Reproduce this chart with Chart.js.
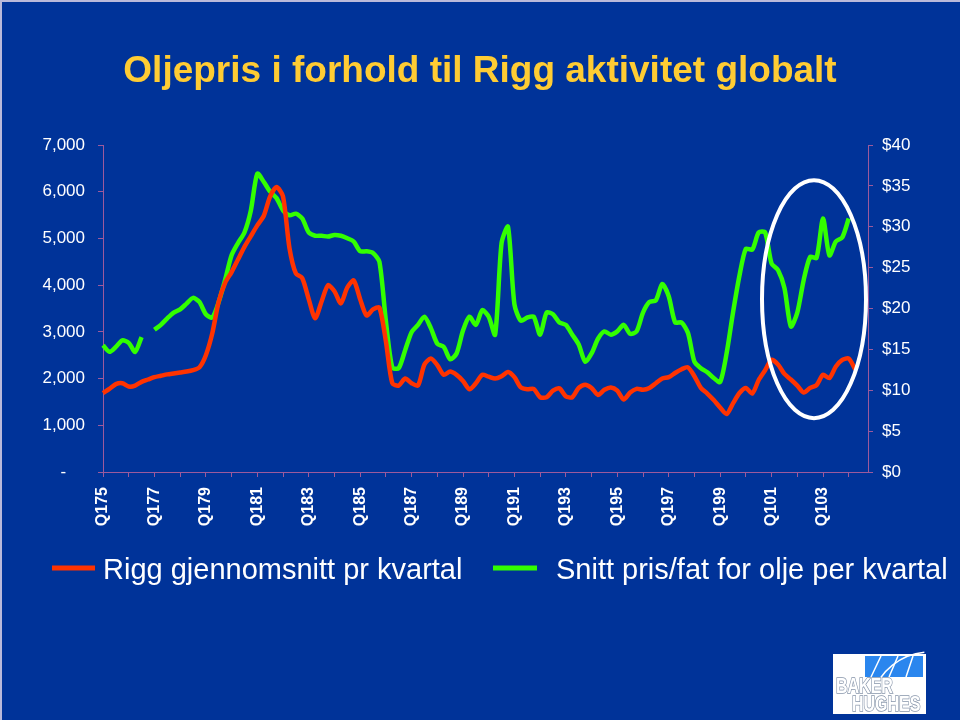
<!DOCTYPE html>
<html lang="no">
<head>
    <meta charset="UTF-8">
    <title>Oljepris i forhold til Rigg aktivitet globalt</title>
    <script src="https://cdn.jsdelivr.net/npm/chart.js"></script>
    <style>
        html, body {
            margin: 0;
            padding: 0;
            background: #003399;
        }
        canvas {
            display: block;
        }
    </style>
</head>
<body>
    <canvas id="chart" width="960" height="720"></canvas>

    <script>
        // Quarter labels Q175 ... Q404 (quarter number + two-digit year)
        const firstYear = 1975;
        const lastYear = 2004;
        const quarters = [];
        for (let year = firstYear; year <= lastYear; year++) {
            for (let q = 1; q <= 4; q++) {
                quarters.push("Q" + q + String(year % 100).padStart(2, "0"));
            }
        }

        // Average rig count per quarter (left axis)
        const rigCount = [
            1690, 1780, 1880, 1900, 1830, 1850, 1930, 1980, 2030, 2060,
            2090, 2110, 2130, 2150, 2180, 2240, 2500, 2970, 3650, 4050,
            4280, 4550, 4820, 5050, 5280, 5480, 5900, 6100, 5900, 4800,
            4250, 4150, 3700, 3290, 3650, 4000, 3870, 3610, 3950, 4100,
            3700, 3350, 3480, 3520, 2800, 1900, 1850, 2000, 1900, 1850,
            2300, 2430, 2290, 2080, 2150, 2080, 1950, 1770, 1900, 2080,
            2040, 2000, 2050, 2140, 2030, 1810, 1770, 1780, 1600, 1600,
            1740, 1790, 1620, 1600, 1800, 1870, 1800, 1650, 1760, 1810,
            1740, 1550, 1700, 1780, 1760, 1800, 1900, 2000, 2030, 2120,
            2200, 2240, 2050, 1800, 1680, 1540, 1380, 1240, 1470, 1690,
            1800, 1680, 1970, 2180, 2400, 2300, 2100, 1980, 1850, 1700,
            1800, 1860, 2080, 2010, 2260, 2400, 2430, 2200
        ];

        // Average oil price per barrel per quarter (right axis)
        const oilPrice = [
            15.5, 14.7, 15.3, 16.1, 15.8, 14.7, 16.5, null, 17.4, 18.0,
            18.8, 19.5, 19.9, 20.6, 21.3, 20.8, 19.3, 18.9, 20.8, 23.5,
            26.5, 28.0, 29.3, 32.0, 36.5, 35.5, 34.3, 33.5, 32.0, 31.4,
            31.6, 31.0, 29.3, 28.9, 28.9, 28.8, 29.0, 28.9, 28.6, 28.2,
            27.0, 27.0, 26.8, 25.7, 18.5, 12.8, 12.7, 14.9, 17.1, 18.0,
            19.0, 17.6, 15.7, 15.3, 13.8, 14.5, 17.3, 19.0, 18.0, 19.8,
            19.0, 16.8, 28.0, 30.0, 20.5, 18.5, 18.9, 19.0, 16.8, 19.5,
            19.3, 18.3, 18.0, 16.8, 15.6, 13.5, 14.5, 16.3, 17.2, 16.8,
            17.2, 18.0, 16.9, 17.2, 19.5, 20.8, 21.0, 23.0, 21.5, 18.3,
            18.3, 17.0, 13.5, 12.7, 12.2, 11.5, 11.0, 14.5, 19.5, 24.0,
            27.3, 27.2, 29.3, 29.3, 25.5, 24.7, 22.5, 17.8, 19.5, 23.5,
            26.3, 26.2, 31.0, 26.5, 28.2, 28.7, 31.0
        ];

        const seriesNames = ["Rigg gjennomsnitt pr kvartal", "Snitt pris/fat for olje per kvartal"];
        const rigTicks = [0, 1000, 2000, 3000, 4000, 5000, 6000, 7000];
        const priceTicks = [0, 5, 10, 15, 20, 25, 30, 35, 40];

        const bgColor = "#003399";
        const axisColor = "#9C5A9C";
        const redColor = "#FF3300";
        const greenColor = "#33FF00";
        const fontFamily = '"Liberation Sans", Arial, sans-serif';
        const xTickFont = { family: fontFamily, size: 16, weight: "bold" };
        const yTickFont = { family: fontFamily, size: 17 };

        // circle marking the last years (center in data units, radius in px)
        const highlight = { index: 110.6, rigs: 3700, rx: 52, ry: 119 };

        const background = {
            id: "background",
            beforeDraw(chart) {
                const ctx = chart.ctx;
                ctx.save();
                ctx.fillStyle = bgColor;
                ctx.fillRect(0, 0, chart.width, chart.height);
                ctx.fillStyle = "#B9B9DA";
                ctx.fillRect(0, 0, chart.width, 2);
                ctx.fillRect(0, 0, 2, chart.height);
                ctx.restore();
            }
        };

        const ellipse = {
            id: "ellipse",
            afterDatasetsDraw(chart) {
                const ctx = chart.ctx;
                const cx = chart.scales.x.getPixelForValue(highlight.index);
                const cy = chart.scales.y.getPixelForValue(highlight.rigs);
                ctx.save();
                ctx.strokeStyle = "#FFFFFF";
                ctx.lineWidth = 4;
                ctx.beginPath();
                ctx.ellipse(cx, cy, highlight.rx, highlight.ry, 0, 0, Math.PI * 2);
                ctx.stroke();
                ctx.restore();
            }
        };

        const customLegend = {
            id: "customLegend",
            afterDraw(chart) {
                const ctx = chart.ctx;
                const spots = [
                    { x0: 52, x1: 95, tx: 103 },
                    { x0: 493, x1: 537, tx: 556 }
                ];
                ctx.save();
                ctx.font = "29px " + fontFamily;
                ctx.textBaseline = "alphabetic";
                ctx.lineCap = "butt";
                chart.data.datasets.forEach((ds, i) => {
                    const s = spots[i];
                    ctx.strokeStyle = ds.borderColor;
                    ctx.lineWidth = 5;
                    ctx.beginPath();
                    ctx.moveTo(s.x0, 568);
                    ctx.lineTo(s.x1, 568);
                    ctx.stroke();
                    ctx.fillStyle = "#FFFFFF";
                    ctx.fillText(ds.label, s.tx, 579);
                });
                ctx.restore();
            }
        };

        const logo = {
            id: "logo",
            afterDraw(chart) {
                const ctx = chart.ctx;
                ctx.save();
                ctx.fillStyle = "#FFFFFF";
                ctx.fillRect(833, 654, 93, 60);
                ctx.fillStyle = "#2A86EE";
                ctx.fillRect(865, 656, 58, 21);
                ctx.strokeStyle = "#FFFFFF";
                ctx.lineWidth = 1.5;
                ctx.beginPath();
                ctx.moveTo(871, 677); ctx.lineTo(881, 656);
                ctx.moveTo(889, 677); ctx.lineTo(898, 656);
                ctx.moveTo(906, 677); ctx.lineTo(913, 656);
                ctx.stroke();
                ctx.beginPath();
                ctx.arc(930, 712, 60, Math.PI * 1.1, Math.PI * 1.47);
                ctx.stroke();

                ctx.font = "bold 16px " + fontFamily;
                ctx.fillStyle = "#FFFFFF";
                ctx.strokeStyle = "#8795AA";
                ctx.lineWidth = 1.2;
                [["BAKER", 836, 693], ["HUGHES", 852, 711]].forEach(([t, x, y]) => {
                    ctx.save();
                    ctx.translate(x, y);
                    ctx.scale(1, 1.4);
                    ctx.strokeText(t, 0, 0);
                    ctx.fillText(t, 0, 0);
                    ctx.restore();
                });
                ctx.restore();
            }
        };

        new Chart(document.getElementById("chart"), {
            type: "line",
            data: {
                labels: quarters,
                datasets: [
                    {
                        label: seriesNames[0],
                        data: rigCount,
                        yAxisID: "y",
                        borderColor: redColor,
                        borderWidth: 4.5,
                        pointRadius: 0,
                        tension: 0.25,
                        spanGaps: false
                    },
                    {
                        label: seriesNames[1],
                        data: oilPrice,
                        yAxisID: "y1",
                        borderColor: greenColor,
                        borderWidth: 4.5,
                        pointRadius: 0,
                        tension: 0.25,
                        spanGaps: false
                    }
                ]
            },
            options: {
                responsive: false,
                animation: false,
                layout: { padding: { left: 0, right: 0, top: 0, bottom: 188 } },
                plugins: {
                    legend: { display: false },
                    tooltip: { enabled: false },
                    title: {
                        display: true,
                        text: "Oljepris i forhold til Rigg aktivitet globalt",
                        color: "#FFCC33",
                        font: { family: fontFamily, size: 37, weight: "bold", lineHeight: 1.2 },
                        padding: { top: 50, bottom: 50.6 }
                    }
                },
                scales: {
                    x: {
                        offset: false,
                        border: { display: true, color: axisColor, width: 1 },
                        grid: {
                            drawOnChartArea: false,
                            tickLength: 5,
                            color: c => (c.index % 4 === 0 ? axisColor : "rgba(0,0,0,0)")
                        },
                        ticks: {
                            autoSkip: false,
                            minRotation: 90,
                            maxRotation: 90,
                            padding: 10,
                            color: "#FFFFFF",
                            font: xTickFont,
                            callback: function (v, i) {
                                return i % 8 === 0 ? this.getLabelForValue(v) : "";
                            }
                        },
                        afterFit: s => { s.height = 60; }
                    },
                    y: {
                        position: "left",
                        min: rigTicks[0],
                        max: rigTicks[rigTicks.length - 1],
                        border: { display: true, color: axisColor, width: 1 },
                        grid: { drawOnChartArea: false, tickLength: 5, color: axisColor },
                        afterBuildTicks: s => { s.ticks = rigTicks.map(v => ({ value: v })); },
                        ticks: {
                            padding: 13,
                            color: "#FFFFFF",
                            font: yTickFont,
                            callback: v => (v === 0 ? "-    " : v.toLocaleString("en-US"))
                        },
                        afterFit: s => { s.width = 103; }
                    },
                    y1: {
                        position: "right",
                        min: priceTicks[0],
                        max: priceTicks[priceTicks.length - 1],
                        border: { display: true, color: axisColor, width: 1 },
                        grid: { drawOnChartArea: false, tickLength: 5, color: axisColor },
                        afterBuildTicks: s => { s.ticks = priceTicks.map(v => ({ value: v })); },
                        ticks: {
                            padding: 9,
                            color: "#FFFFFF",
                            font: yTickFont,
                            callback: v => "$" + v
                        },
                        afterFit: s => { s.width = 92; }
                    }
                }
            },
            plugins: [background, ellipse, customLegend, logo]
        });
    </script>
</body>
</html>
